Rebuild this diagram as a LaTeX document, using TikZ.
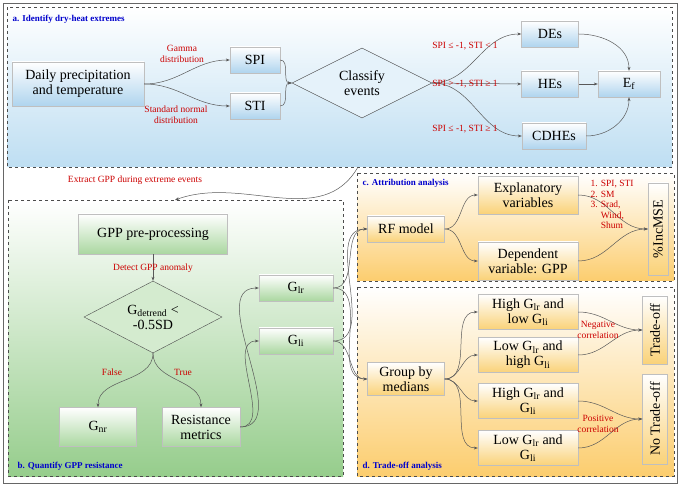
\documentclass[tikz,border=0pt]{standalone}
\usepackage{fontspec}
\setmainfont{Liberation Serif}
\usetikzlibrary{shapes.geometric,arrows.meta}
\definecolor{pa}{RGB}{190,222,242}
\definecolor{ba}{RGB}{175,212,238}
\definecolor{pb}{RGB}{150,205,140}
\definecolor{bbc}{RGB}{170,215,160}
\definecolor{pc}{RGB}{252,205,110}
\definecolor{bcc}{RGB}{250,210,120}
\begin{document}
\begin{tikzpicture}[x=1pt,y=-1pt,
  bx/.style={draw=black!25,minimum height=26pt,align=center,font=\fontsize{14}{15}\selectfont,inner sep=2pt},
  ba/.style={bx,top color=white,bottom color=ba},
  bb/.style={bx,top color=white,bottom color=bbc},
  bc/.style={bx,top color=white,bottom color=bcc},
  dia/.style={diamond,draw=black!70,aspect=1.9,inner sep=1pt,align=center,font=\fontsize{14}{15}\selectfont},
  lab/.style={text=red!80!black,font=\fontsize{9.5}{10.5}\selectfont,align=center},
  ttl/.style={text=blue!80!black,font=\bfseries\fontsize{9}{10}\selectfont,anchor=west},
  ar/.style={draw=black!65,-{Stealth[length=4pt,width=3pt]},line width=0.5pt},
  pan/.style={draw=black!70,dashed,line width=0.6pt}]
\useasboundingbox (0,0) rectangle (680,486);
\draw[black!60,line width=0.8pt] (3,3) rectangle (677,483);
% panels
\path[pan,top color=white,bottom color=pa] (7,7) rectangle (672,167);
\path[pan,top color=white,bottom color=pb] (8,200) rectangle (343,476);
\path[pan,top color=white,bottom color=pc] (357,173) rectangle (674,281);
\path[pan,top color=white,bottom color=pc] (357,287) rectangle (674,476);
\node[ttl] (ta) at (9,19) {a. Identify dry-heat extremes};
\node[ttl] (tb) at (14,466) {b. Quantify GPP resistance};
\node[ttl] (tc) at (359,183) {c. Attribution analysis};
\node[ttl] (td) at (359,466) {d. Trade-off analysis};
% panel a
\node[ba,minimum width=132pt,minimum height=44pt] (dp) at (78,84) {Daily precipitation\\and temperature};
\node[ba,minimum width=50pt] (spi) at (255,60) {SPI};
\node[ba,minimum width=50pt] (sti) at (255,106) {STI};
\node[dia,fill=pa!40,minimum width=140pt,minimum height=70pt] (cl) at (362,83) {Classify\\events};
\node[ba,minimum width=57pt] (de) at (550,34) {DEs};
\node[ba,minimum width=57pt] (he) at (550,84) {HEs};
\node[ba,minimum width=64pt] (cd) at (554,136) {CDHEs};
\node[ba,minimum width=62pt] (ef) at (629,84) {E$_\mathrm{f}$};
\draw[ar] (dp.east) to[out=0,in=180] (spi.west);
\draw[ar] (dp.east) to[out=0,in=180] (sti.west);
\draw[ar] (spi.east) to[out=0,in=180] (cl.west);
\draw[ar] (sti.east) to[out=0,in=180] (cl.west);
\draw[ar] (cl.east) to[out=0,in=180] (de.west);
\draw[ar] (cl.east) -- (he.west);
\draw[ar] (cl.east) to[out=0,in=180] (cd.west);
\draw[ar] (de.east) to[out=0,in=90] (ef.north);
\draw[ar] (he.east) -- (ef.west);
\draw[ar] (cd.east) to[out=0,in=-90] (ef.south);
\node[lab] (l1) at (182,54) {Gamma\\distribution};
\node[lab] (l2) at (176,115) {Standard normal\\distribution};
\node[lab] (l3) at (465,46) {SPI ≤ -1, STI < 1};
\node[lab] (l4) at (465,84) {SPI > -1, STI ≥ 1};
\node[lab] (l5) at (465,129) {SPI ≤ -1, STI ≥ 1};
% extract
\coordinate (ea) at (358,167);
\coordinate (eb) at (175,200);
\draw[ar] (ea) to[out=240,in=20] (eb);
\node[lab] (l6) at (135,180) {Extract GPP during extreme events};
% panel b
\node[bb,minimum width=149pt,minimum height=40pt] (gp) at (153,234) {GPP pre-processing};
\node[dia,fill=bbc!50,minimum width=138pt,minimum height=72pt] (gd) at (153,317) {G$_\mathrm{detrend}$ <\\-0.5SD};
\node[bb,minimum width=77pt,minimum height=39pt] (gn) at (98,427) {G$_\mathrm{nr}$};
\node[bb,minimum width=78pt,minimum height=39pt] (rm) at (201,427) {Resistance\\metrics};
\node[bb,minimum width=74pt] (glr) at (296,288) {G$_\mathrm{lr}$};
\node[bb,minimum width=74pt] (gli) at (296,341) {G$_\mathrm{li}$};
\draw[ar] (gp.south) -- (gd.north);
\node[lab] (l7) at (153,268) {Detect GPP anomaly};
\draw[ar] (gd.south) to[out=-90,in=90] (gn.north);
\draw[ar] (gd.south) to[out=-90,in=90] (rm.north);
\node[lab] (l8) at (112,372) {False};
\node[lab] (l9) at (183,372) {True};
\draw[ar] (rm.east) to[out=0,in=180] (glr.west);
\draw[ar] (rm.east) to[out=0,in=180] (gli.west);
% panel c
\node[bc,minimum width=100pt,minimum height=38pt] (ex) at (528,195) {Explanatory\\variables};
\node[bc,minimum width=77pt] (rf) at (406,229) {RF model};
\node[bc,minimum width=100pt,minimum height=38pt] (dv) at (528,261) {Dependent\\variable: GPP};
\node[bc,minimum width=92pt,minimum height=20pt,rotate=90] (inc) at (658,229) {\%IncMSE};
\draw[ar] (rf.east) to[out=0,in=180] (ex.west);
\draw[ar] (rf.east) to[out=0,in=180] (dv.west);
\draw[ar] (ex.east) to[out=0,in=180] (inc.north);
\draw[ar] (dv.east) to[out=0,in=180] (inc.north);
\node[lab,align=left,anchor=north west] (l10) at (587,177) {1. SPI, STI\\2. SM\\3. Srad,\\\phantom{3. }Wind,\\\phantom{3. }Shum};
% panel d
\node[bc,minimum width=100pt,minimum height=35pt] (d1) at (528,312) {High G$_\mathrm{lr}$ and\\low G$_\mathrm{li}$};
\node[bc,minimum width=100pt,minimum height=35pt] (d2) at (528,355) {Low G$_\mathrm{lr}$ and\\high G$_\mathrm{li}$};
\node[bc,minimum width=100pt,minimum height=35pt] (d3) at (528,401) {High G$_\mathrm{lr}$ and\\G$_\mathrm{li}$};
\node[bc,minimum width=100pt,minimum height=35pt] (d4) at (528,448) {Low G$_\mathrm{lr}$ and\\G$_\mathrm{li}$};
\node[bc,minimum width=77pt,minimum height=33pt] (gm) at (406,379) {Group by\\medians};
\node[bc,minimum width=68pt,minimum height=25pt,rotate=90] (to) at (655,330) {Trade-off};
\node[bc,minimum width=90pt,minimum height=25pt,rotate=90] (nt) at (655,419) {No Trade-off};
\foreach \d in {d1,d2,d3,d4} \draw[ar] (gm.east) to[out=0,in=180] (\d.west);
\draw[ar] (d1.east) to[out=0,in=180] (to.north);
\draw[ar] (d2.east) to[out=0,in=180] (to.north);
\draw[ar] (d3.east) to[out=0,in=180] (nt.north);
\draw[ar] (d4.east) to[out=0,in=180] (nt.north);
\node[lab] (l11) at (598,330) {Negative\\correlation};
\node[lab] (l12) at (598,424) {Positive\\correlation};
% cross links
\draw[ar] (glr.east) to[out=0,in=180] (rf.west);
\draw[ar] (glr.east) to[out=0,in=180] (gm.west);
\draw[ar] (gli.east) to[out=0,in=180] (rf.west);
\draw[ar] (gli.east) to[out=0,in=180] (gm.west);
\end{tikzpicture}
\end{document}
